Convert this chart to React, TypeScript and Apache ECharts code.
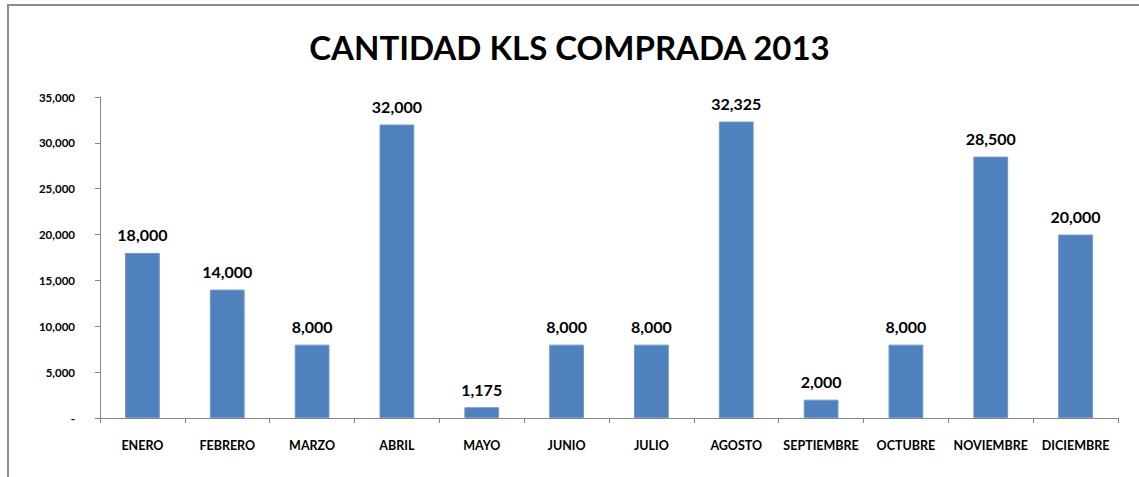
import React, { useEffect, useRef } from "react";
import * as echarts from "echarts";

const title = "CANTIDAD KLS COMPRADA 2013";
const months = ["ENERO", "FEBRERO", "MARZO", "ABRIL", "MAYO", "JUNIO", "JULIO", "AGOSTO", "SEPTIEMBRE", "OCTUBRE", "NOVIEMBRE", "DICIEMBRE"];
const kilos = [18000, 14000, 8000, 32000, 1175, 8000, 8000, 32325, 2000, 8000, 28500, 20000];
const yMax = 35000;
const yStep = 5000;

const fmt = (v: number) => (v === 0 ? "-" : v.toLocaleString("en-US"));
const FONT = "Lato, 'Open Sans', sans-serif";

export default function App() {
  const ref = useRef<HTMLDivElement>(null);
  useEffect(() => {
    const chart = echarts.init(ref.current!, null, { renderer: "svg" });
    chart.setOption({
      animation: false,
      backgroundColor: "#ffffff",
      title: {
        text: title,
        left: "center",
        top: 25,
        textStyle: { fontFamily: FONT, fontWeight: "bold", fontSize: 33, color: "#000" },
      },
      graphic: [
        {
          type: "rect",
          shape: { x: 8, y: 5, width: 1300, height: 700 },
          style: { fill: "none", stroke: "#8c8c8c", lineWidth: 2 },
          silent: true,
        },
      ],
      grid: { left: 100, right: 21, top: 97, bottom: 59 },
      xAxis: {
        type: "category",
        data: months,
        axisLine: { lineStyle: { color: "#868686", width: 1 } },
        axisTick: { show: true, length: 5, alignWithLabel: false, lineStyle: { color: "#868686" } },
        axisLabel: { fontFamily: FONT, fontWeight: "bold", fontSize: 12.5, color: "#000", margin: 21, interval: 0 },
      },
      yAxis: {
        type: "value",
        min: 0,
        max: yMax,
        interval: yStep,
        axisLine: { show: true, lineStyle: { color: "#868686", width: 1 } },
        axisTick: { show: true, length: 5, lineStyle: { color: "#868686" } },
        splitLine: { show: false },
        axisLabel: { fontFamily: FONT, fontWeight: "bold", fontSize: 11.5, color: "#000", margin: 25, formatter: fmt },
      },
      series: [
        {
          type: "bar",
          data: kilos,
          barWidth: "41%",
          itemStyle: { color: "#4F81BD", borderColor: "#6f98cc", borderWidth: 1 },
          label: {
            show: true,
            position: "top",
            distance: 10,
            fontFamily: FONT,
            fontWeight: "bold",
            fontSize: 16,
            color: "#000",
            formatter: (p: any) => fmt(p.value),
          },
        },
      ],
    });
    return () => chart.dispose();
  }, []);
  return (
    <div
      ref={ref}
      style={{ position: "absolute", left: 0, top: 0, width: 1139, height: 477 }}
    />
  );
}
